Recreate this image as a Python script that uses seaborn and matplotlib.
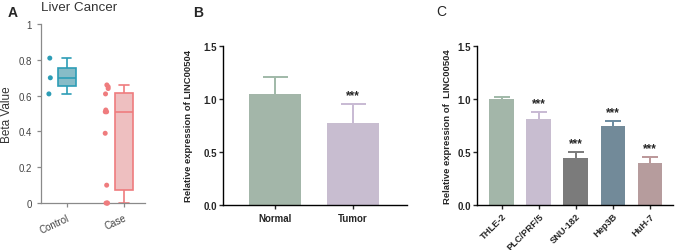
import numpy as np
import pandas as pd
import seaborn as sns
import matplotlib.pyplot as plt

sns.set_style('ticks')
plt.rcParams['font.family'] = ['Liberation Sans', 'DejaVu Sans']

# Panel A - methylation beta values
groups_a = ['Control', 'Case']
control_beta = [0.81, 0.70, 0.61]
case_beta = [0.66, 0.65, 0.64, 0.61, 0.52, 0.51, 0.51, 0.39, 0.10, 0.0, 0.0, 0.0]

# Panel B - tissue expression
tissues = ['Normal', 'Tumor']
tissue_mean = [1.045, 0.77]
tissue_sd = [0.16, 0.185]
tissue_sig = ['', '***']

# Panel C - cell lines
cells = ['THLE-2', 'PLC/PRF/5', 'SNU-182', 'Hep3B', 'HuH-7']
cell_mean = [1.0, 0.81, 0.44, 0.74, 0.395]
cell_sd = [0.02, 0.07, 0.06, 0.05, 0.06]
cell_sig = ['', '***', '***', '***', '***']

box_fill = {'Control': '#7cc3d2', 'Case': '#f6b7b8'}
box_edge = {'Control': '#2d9db6', 'Case': '#ef7c7e'}
tissue_cols = ['#a0b9a8', '#c8bad3']
cell_cols = ['#a0b9a8', '#c8bad3', '#7b7b7b', '#6b8ba0', '#bb9799']

fig = plt.figure(figsize=(6.76, 2.51), dpi=100)

# ---------------- A
df_a = pd.DataFrame({
    'group': ['Control'] * len(control_beta) + ['Case'] * len(case_beta),
    'beta': control_beta + case_beta,
})
ax1 = fig.add_axes([0.0607, 0.187, 0.154, 0.713])
for g in groups_a:
    sub = df_a.copy()
    sub.loc[sub['group'] != g, 'beta'] = np.nan
    sns.boxplot(data=sub, x='group', y='beta', order=groups_a, width=0.32,
                color=box_fill[g], linecolor=box_edge[g], linewidth=1.2,
                showfliers=False, ax=ax1)
np.random.seed(3)
sns.stripplot(data=df_a, x='group', y='beta', order=groups_a, hue='group',
              palette=box_edge, jitter=0.03, size=3.6, legend=False, ax=ax1)
for coll in ax1.collections:
    off = coll.get_offsets()
    if len(off):
        off[:, 0] -= 0.3
        coll.set_offsets(off)
        coll.set_clip_on(False)
ax1.set_xlim(-0.45, 1.37)
ax1.set_ylim(0, 1)
ax1.set_yticks([0, 0.2, 0.4, 0.6, 0.8, 1.0])
ax1.set_yticklabels(['0', '0.2', '0.4', '0.6', '0.8', '1'])
ax1.set_xlabel('')
ax1.set_ylabel('Beta Value', fontsize=8.5, color='#333333', labelpad=4)
ax1.set_title('Liver Cancer', loc='left', fontsize=9.6, color='#333333', pad=10)
for s in ['top', 'right']:
    ax1.spines[s].set_visible(False)
for s in ['left', 'bottom']:
    ax1.spines[s].set_color('#8a8a8a')
    ax1.spines[s].set_linewidth(0.9)
ax1.tick_params(axis='both', colors='#8a8a8a', labelcolor='#444444',
                labelsize=7, length=3, width=0.9)
for lab in ax1.get_xticklabels():
    lab.set_rotation(25)
    lab.set_ha('right')
    lab.set_rotation_mode('anchor')


def bar_panel(ax, names, means, sds, sigs, cols, cap):
    df = pd.DataFrame({'name': names, 'mean': means})
    sns.barplot(data=df, x='name', y='mean', hue='name', palette=cols,
                width=0.67, linewidth=0, legend=False, ax=ax)
    pos = np.arange(len(names))
    for i in range(len(names)):
        eb = ax.errorbar(pos[i], means[i], yerr=[[0], [sds[i]]], fmt='none',
                         ecolor=cols[i], elinewidth=1.4, capsize=cap,
                         capthick=1.4)
        eb[1][0].set_visible(False)
        if sigs[i]:
            ax.text(pos[i], means[i] + sds[i] + 0.055, sigs[i], ha='center',
                    va='baseline', fontsize=8.5, fontweight='bold')
    ax.set_ylim(0, 1.5)
    ax.set_yticks([0, 0.5, 1.0, 1.5], ['0.0', '0.5', '1.0', '1.5'],
                  fontsize=7, fontweight='bold')
    ax.set_xlabel('')
    for s in ['top', 'right']:
        ax.spines[s].set_visible(False)
    for s in ['left', 'bottom']:
        ax.spines[s].set_linewidth(1.0)
        ax.spines[s].set_color('black')
    ax.tick_params(axis='both', length=3, width=1.0, pad=1.5)


# ---------------- B
ax2 = fig.add_axes([0.330, 0.179, 0.272, 0.635])
bar_panel(ax2, tissues, tissue_mean, tissue_sd, tissue_sig, tissue_cols, 9)
ax2.set_xlim(-0.66, 1.69)
ax2.set_xticks(range(len(tissues)), tissues, fontsize=7, fontweight='bold')
ax2.tick_params(axis='x', pad=3)
ax2.set_ylabel('Relative expression of LINC00504', fontsize=6.8,
               fontweight='bold')
ax2.yaxis.set_label_coords(-0.163, 0.5)

# ---------------- C
ax3 = fig.add_axes([0.7056, 0.179, 0.290, 0.635])
bar_panel(ax3, cells, cell_mean, cell_sd, cell_sig, cell_cols, 5.5)
ax3.set_xlim(-0.666, 4.62)
ax3.set_xticks(range(len(cells)), cells, fontsize=6.7, fontweight='bold',
               rotation=45, ha='right', rotation_mode='anchor')
ax3.set_ylabel('Relative expression of  LINC00504', fontsize=6.8,
               fontweight='bold')
ax3.yaxis.set_label_coords(-0.128, 0.5)

fig.text(0.012, 0.948, 'A', fontsize=10, fontweight='bold', va='center')
fig.text(0.285, 0.948, 'B', fontsize=10, fontweight='bold', va='center')
fig.text(0.646, 0.952, 'C', fontsize=10, va='center')

fig.savefig('out.png', dpi=100)
